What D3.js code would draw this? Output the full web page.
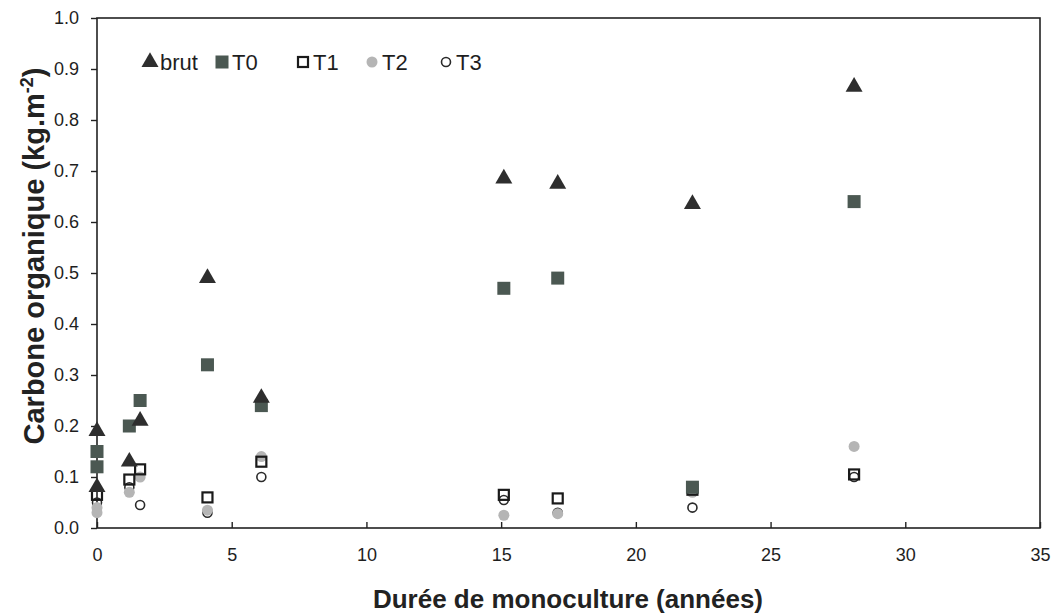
<!DOCTYPE html>
<html><head><meta charset="utf-8">
<script src="https://cdn.jsdelivr.net/npm/d3@7"></script>
<style>body{margin:0;background:#fff;} text{font-family:"Liberation Sans",Arial,sans-serif;}</style>
</head><body>
<svg id="c" width="1053" height="616"></svg>
<script>
const xTicks = [0,5,10,15,20,25,30,35];
const yTicks = [0,0.1,0.2,0.3,0.4,0.5,0.6,0.7,0.8,0.9,1.0];
const seriesNames = ["brut","T0","T1","T2","T3"];
const brut = [[0,0.19],[0,0.08],[1.2,0.13],[1.6,0.21],[4.1,0.49],[6.1,0.255],[15.1,0.685],[17.1,0.675],[22.1,0.635],[28.1,0.865]];
const t0   = [[0,0.15],[0,0.12],[1.2,0.20],[1.6,0.25],[4.1,0.32],[6.1,0.24],[15.1,0.47],[17.1,0.49],[22.1,0.08],[28.1,0.64]];
const t1   = [[0,0.065],[1.2,0.095],[1.6,0.115],[4.1,0.06],[6.1,0.13],[15.1,0.065],[17.1,0.058],[22.1,0.075],[28.1,0.105]];
const t2   = [[0,0.04],[0,0.03],[1.2,0.07],[1.6,0.10],[4.1,0.035],[6.1,0.14],[15.1,0.025],[17.1,0.028],[22.1,0.07],[28.1,0.16]];
const t3   = [[0,0.05],[1.2,0.08],[1.6,0.045],[4.1,0.03],[6.1,0.10],[15.1,0.055],[17.1,0.03],[22.1,0.04],[28.1,0.10]];

const svg = d3.select("#c");
const L=97, R=1040, T=18, B=528;
const x = d3.scaleLinear().domain([0,35]).range([L,R]);
const y = d3.scaleLinear().domain([0,1]).range([B,T]);

// frame
svg.append("rect").attr("x",L).attr("y",T).attr("width",R-L).attr("height",B-T)
  .attr("fill","none").attr("stroke","#222").attr("stroke-width",1.6);

// y axis
const ya = svg.append("g").attr("transform",`translate(${L},0)`)
  .call(d3.axisLeft(y).tickValues(yTicks).tickFormat(d3.format(".1f")).tickSize(6).tickPadding(12));
ya.select(".domain").remove();
ya.selectAll("line").attr("stroke","#222").attr("stroke-width",1.4);
ya.selectAll("text").attr("font-size",18).attr("fill","#1e1e1e").style("font-family","Liberation Sans, Arial");

// x axis (ticks inward)
const xa = svg.append("g").attr("transform",`translate(0,${B})`)
  .call(d3.axisBottom(x).tickValues(xTicks).tickFormat(d3.format("d")).tickSizeInner(-6).tickSizeOuter(0).tickPadding(20));
xa.select(".domain").remove();
xa.selectAll("line").attr("stroke","#222").attr("stroke-width",1.4);
xa.selectAll("text").attr("font-size",18).attr("fill","#1e1e1e").style("font-family","Liberation Sans, Arial");

// titles
svg.append("text").attr("x",568).attr("y",608).attr("text-anchor","middle")
  .attr("font-size",26).attr("font-weight","bold").attr("fill","#222")
  .text("Durée de monoculture (années)");
const yt = svg.append("text").attr("transform","translate(44,256) rotate(-90)").attr("text-anchor","middle")
  .attr("font-size",29).attr("font-weight","bold").attr("fill","#222");
yt.append("tspan").text("Carbone organique (kg.m");
yt.append("tspan").attr("dy",-11).attr("font-size",18).text("-2");
yt.append("tspan").attr("dy",11).text(")");

// marker drawers
const sym = {
  brut: g => g.append("path").attr("d",d3.symbol(d3.symbolTriangle,125)()).attr("fill","#2e2e2e"),
  T0: g => g.append("rect").attr("x",-6.5).attr("y",-6.5).attr("width",13).attr("height",13).attr("fill","#4b5852"),
  T1: g => g.append("rect").attr("x",-5).attr("y",-5).attr("width",10).attr("height",10).attr("fill","none").attr("stroke","#1a1a1a").attr("stroke-width",2.2),
  T2: g => g.append("circle").attr("r",5.5).attr("fill","#b5b5b5"),
  T3: g => g.append("circle").attr("r",4.5).attr("fill","none").attr("stroke","#2a2a2a").attr("stroke-width",1.6)
};
const data = {brut:brut,T0:t0,T1:t1,T2:t2,T3:t3};
["T3","T2","T1","T0","brut"].forEach(k=>{
  svg.append("g").selectAll("g").data(data[k]).join("g")
    .attr("transform",d=>`translate(${x(d[0])},${y(d[1])})`)
    .each(function(){ sym[k](d3.select(this)); });
});

// legend
const legX = [150,222,303,372,446];
seriesNames.forEach((k,i)=>{
  const g = svg.append("g").attr("transform",`translate(${legX[i]},62)`);
  sym[k](g);
  svg.append("text").attr("x",legX[i]+10).attr("y",70).attr("font-size",22).attr("fill","#1e1e1e").text(k);
});
</script>
</body></html>
